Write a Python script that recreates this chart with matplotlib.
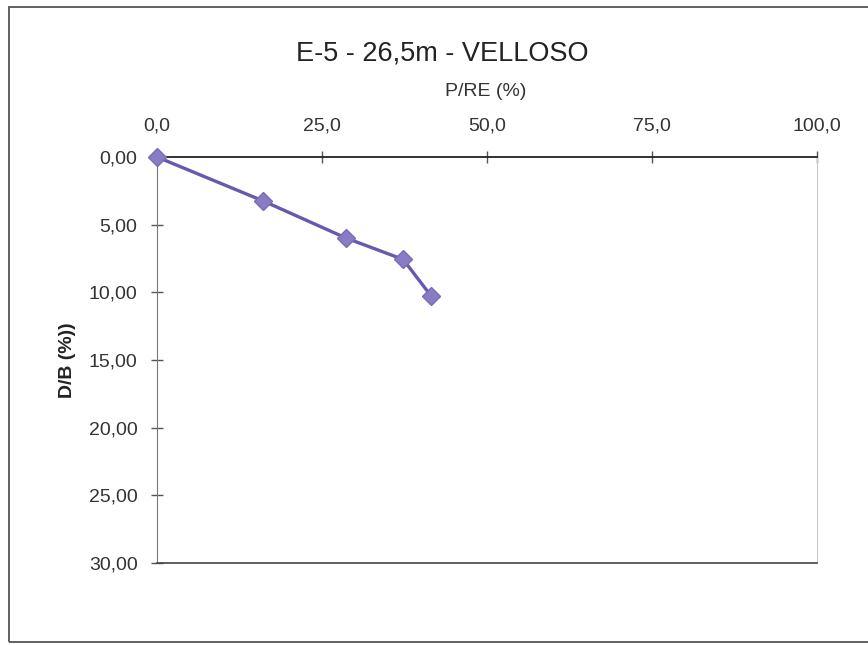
import matplotlib
matplotlib.use("Agg")
import matplotlib.pyplot as plt
from matplotlib.patches import Rectangle
from matplotlib.ticker import FuncFormatter

plt.rcParams['font.family'] = ['Liberation Sans', 'DejaVu Sans']

# Load ratio vs. settlement ratio
p_re = [0.0, 16.1, 28.6, 37.3, 41.5]
d_b = [0.0, 3.25, 5.98, 7.57, 10.25]

x_ticks = [0, 25, 50, 75, 100]
y_ticks = [0, 5, 10, 15, 20, 25, 30]

W, H = 868, 645
fig = plt.figure(figsize=(W / 100, H / 100), dpi=100)
fig.patch.set_facecolor('white')

# chart frame
fig.add_artist(Rectangle((9 / W, 1 - 642 / H), 1.2, (642 - 7) / H, transform=fig.transFigure,
                         fill=False, edgecolor='#555555', linewidth=1.3))

ax = fig.add_axes([157 / W, 1 - 563 / H, (817 - 157) / W, (563 - 157) / H])
ax.plot(p_re, d_b, color='#6a58b0', linewidth=2.4, marker='D', markersize=9.5,
        markerfacecolor='#8a7cc4', markeredgecolor='#7a6ab8', zorder=3, clip_on=False)

ax.set_xlim(0, 100)
ax.set_ylim(30, 0)
ax.xaxis.tick_top()
ax.set_xticks(x_ticks)
ax.set_yticks(y_ticks)
ax.xaxis.set_major_formatter(FuncFormatter(lambda v, p: f"{v:.1f}".replace('.', ',')))
ax.yaxis.set_major_formatter(FuncFormatter(lambda v, p: f"{v:.2f}".replace('.', ',')))
ax.tick_params(axis='both', direction='inout', length=8, width=1, colors='#555555',
               labelsize=14, labelcolor='#333333')
ax.tick_params(axis='x', pad=12)
ax.tick_params(axis='y', pad=10)

ax.spines['top'].set_color('#222222')
ax.spines['top'].set_linewidth(1.3)
ax.spines['bottom'].set_color('#444444')
ax.spines['bottom'].set_linewidth(1.2)
ax.spines['left'].set_color('#777777')
ax.spines['right'].set_color('#cccccc')

fig.text(486 / W, 1 - 92 / H, 'P/RE (%)', ha='center', va='center',
         fontsize=14, color='#333333')
fig.text(67 / W, 1 - 360 / H, 'D/B (%))', ha='center', va='center', rotation=90,
         fontsize=14, color='#222222', fontweight='bold')
fig.text(442 / W, 1 - 53 / H, 'E-5 - 26,5m - VELLOSO', ha='center', va='center',
         fontsize=19.5, color='#222222')

fig.savefig('out.png', dpi=100)
